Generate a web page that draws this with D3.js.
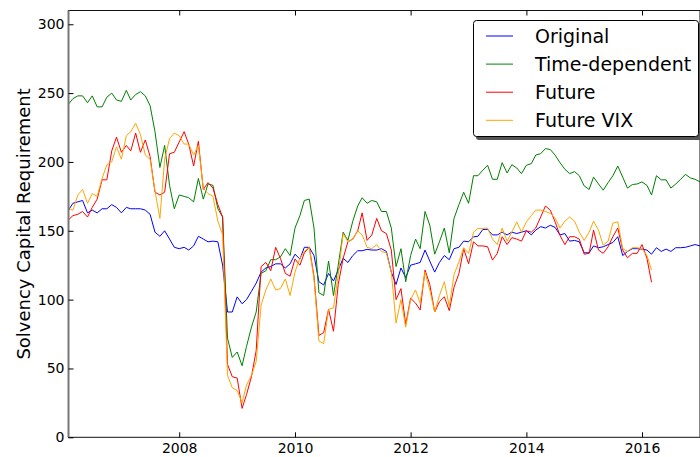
<!DOCTYPE html>
<html>
<head>
<meta charset="utf-8">
<script src="https://cdn.jsdelivr.net/npm/d3@7"></script>
<style>
  body { margin: 0; background: #fff; }
  svg { display: block; font-family: "DejaVu Sans", sans-serif; }
</style>
</head>
<body>
<svg id="chart" width="700" height="457"></svg>
<script>
// monthly values, first month 2006-02
let startMonth = new Date(2006, 1, 1)

let original = [
  165, 170, 171, 172, 163, 165, 163, 166, 166, 169, 167, 163, 167, 166, 166, 166, 165, 162, 149, 146, 150, 144, 138,
  137, 138, 136, 139, 146, 144, 142, 142.5, 142, 125, 91, 91, 102, 97, 100, 106, 112, 120, 123, 124, 126,
  126, 123, 126, 133, 129.5, 138, 138, 132, 113, 110.6, 119, 113.5, 121.5, 130, 127, 132, 135.5, 135.5, 136.5, 136, 136, 137,
  135, 120, 111, 123, 116, 125, 126, 127, 136, 128, 120, 127, 132, 129, 137, 138, 142.5, 142, 145.6, 146, 151,
  151, 147, 147, 149, 147, 149, 148, 149, 150, 147, 150.5, 153, 152, 154, 152.5, 147, 148, 142.5, 143, 142, 134, 134,
  139, 137.7, 138.4, 140, 141.5, 145.7, 132, 135, 137, 137, 136.7, 136, 133, 137.7, 135, 136.7, 135, 137.7, 137.7, 138, 139, 140, 139
]

let timeDependent = [
  242, 246, 248, 248, 243, 248, 240, 240, 247, 250, 245, 244, 252, 245, 249, 251, 248, 241, 222, 196, 212, 183, 166,
  176, 175, 174, 171, 188, 173, 184, 183, 166, 160, 72, 58, 62, 52, 66, 80, 91, 119, 121, 129, 129,
  131, 137, 132, 152, 161, 172, 173, 152, 105, 103, 128, 103, 125, 149, 143, 157, 168, 174, 170, 172, 171, 164,
  164, 152, 124, 137, 113, 132, 144, 137, 164, 154, 133, 142, 152, 134, 159, 169, 178, 170, 190, 190, 194,
  197.6, 187.4, 187.4, 199.5, 192, 198, 195.6, 191.5, 197.6, 198.8, 205, 206, 209.7, 209, 205, 199.5, 194.7, 191.5, 193, 190, 182.6, 180,
  189, 184, 179.5, 185, 190, 197, 189, 181, 183.6, 184, 185.5, 183, 176, 190, 187, 187, 181, 184, 187.4, 191, 188.4, 187.4, 185.5
]

let future = [
  158, 161, 162, 164, 160, 167, 173, 187, 187, 208, 218, 207, 212, 208, 221, 207, 216, 204, 178, 176, 178, 206, 207,
  214.5, 222, 213, 197, 215, 180, 185, 181, 169, 160, 53, 44, 43, 21, 31, 44, 63, 124, 127, 121, 138,
  130, 119, 117, 129.5, 125, 134, 138, 117, 74, 76, 93, 77, 111, 130, 142, 144, 150, 163, 143, 147, 159, 150,
  148, 136, 100, 108, 82, 101, 97.5, 92.5, 121.5, 111, 91, 98.5, 102, 92, 109, 119, 137, 126, 142, 139, 139,
  138.4, 128.7, 133.6, 145.7, 140, 145, 144, 142.5, 150, 149, 152, 160, 168, 165, 156.5, 146.6, 140, 145.7, 145.7, 144, 133, 133.6,
  150.5, 136, 133.6, 138.4, 145.7, 152, 136, 130.4, 133.6, 133.6, 140, 130, 112.6
]

let futureVix = [
  166, 165, 176, 180, 170, 177, 175, 188, 198, 200, 211, 202, 219, 222, 228, 220, 205, 202, 179, 159, 202, 217, 221,
  219, 213, 213, 205, 212, 181, 177, 175, 157, 147, 45, 36, 34, 25, 38, 45, 55, 96, 107, 115, 107,
  108, 115, 103, 120, 130, 135, 138, 115, 70, 68, 93, 94, 118, 148, 142, 144, 150, 147, 138, 137, 140, 135,
  134, 120, 83, 100, 80, 100, 107, 97.5, 120, 107, 91, 103, 113, 95, 118, 127.5, 137.7, 133.6, 149, 151.7, 151.7,
  152, 144, 140, 152, 142.5, 149, 156.5, 149, 156.5, 161, 165, 165, 164, 162.6, 159.4, 152, 157, 160, 157, 149, 143, 149,
  157, 150.5, 139.6, 142.5, 155.6, 156.5, 137, 135, 137.7, 137.7, 137, 132, 121.5
]

let seriesNames = ['Original', 'Time-dependent', 'Future', 'Future VIX']
let seriesColors = ['#0000ff', '#008000', '#ff0000', '#ffa500']
let yTicks = [0, 50, 100, 150, 200, 250, 300]

let series = [original, timeDependent, future, futureVix].map(function(values, k) {
  return {
    name: seriesNames[k],
    color: seriesColors[k],
    points: values.map(function(v, i) {
      return { date: d3.timeMonth.offset(startMonth, i), value: v }
    })
  }
})

let margin = { left: 68.5, top: 10.5, right: 700, bottom: 437.3 }
let svg = d3.select('#chart')

let x = d3
  .scaleTime()
  .domain([startMonth, d3.timeMonth.offset(startMonth, original.length - 1)])
  .range([margin.left, margin.right])
let y = d3
  .scaleLinear()
  .domain([0, 310])
  .range([margin.bottom, margin.top])

let line = d3
  .line()
  .x(function(d) { return x(d.date) })
  .y(function(d) { return y(d.value) })

// lines
svg
  .append('g')
  .selectAll('path')
  .data(series)
  .enter()
  .append('path')
  .attr('d', function(d) { return line(d.points) })
  .attr('fill', 'none')
  .attr('stroke', function(d) { return d.color })
  .attr('stroke-width', 1)

// frame
svg
  .append('rect')
  .attr('x', margin.left)
  .attr('y', margin.top)
  .attr('width', margin.right - margin.left)
  .attr('height', margin.bottom - margin.top)
  .attr('fill', 'none')
  .attr('stroke', '#111')
  .attr('stroke-width', 1)
svg
  .append('line')
  .attr('x1', margin.left)
  .attr('x2', margin.left)
  .attr('y1', margin.top)
  .attr('y2', margin.bottom)
  .attr('stroke', '#777')
  .attr('stroke-width', 2)

// axes, ticks inside
let xTicks = x.ticks(d3.timeYear.every(2))
let xAxis = d3
  .axisBottom(x)
  .tickValues(xTicks)
  .tickFormat(d3.timeFormat('%Y'))
  .tickSize(-5)
  .tickPadding(6)
let gx = svg
  .append('g')
  .attr('transform', 'translate(0,' + margin.bottom + ')')
  .call(xAxis)
gx.select('.domain').remove()
gx.attr('font-family', 'DejaVu Sans')
gx.selectAll('text').style('font-size', '14px').attr('fill', '#000')

let gxTop = svg
  .append('g')
  .attr('transform', 'translate(0,' + margin.top + ')')
  .call(d3.axisTop(x).tickValues(xTicks).tickSize(-5).tickFormat(''))
gxTop.select('.domain').remove()

let yAxis = d3
  .axisLeft(y)
  .tickValues(yTicks)
  .tickSize(-5)
  .tickPadding(4)
let gy = svg
  .append('g')
  .attr('transform', 'translate(' + margin.left + ',0)')
  .call(yAxis)
gy.select('.domain').remove()
gy.attr('font-family', 'DejaVu Sans')
gy.selectAll('text').style('font-size', '14px').attr('fill', '#000')

svg
  .append('text')
  .attr('transform', 'translate(30,' + (margin.top + margin.bottom) / 2 + ') rotate(-90)')
  .attr('text-anchor', 'middle')
  .style('font-size', '18px')
  .text('Solvency Capital Requirement')

// legend
let legend = svg.append('g').attr('class', 'legend')
legend
  .append('rect')
  .attr('x', 476)
  .attr('y', 23)
  .attr('width', 226)
  .attr('height', 117)
  .attr('rx', 3)
  .attr('fill', '#555')
legend
  .append('rect')
  .attr('x', 473.5)
  .attr('y', 20.5)
  .attr('width', 225)
  .attr('height', 116)
  .attr('rx', 3)
  .attr('fill', '#fff')
  .attr('stroke', '#000')
  .attr('stroke-width', 1)

let entries = legend
  .selectAll('g.legend-entry')
  .data(series)
  .enter()
  .append('g')
  .classed('legend-entry', true)
  .attr('transform', function(d, i) {
    return 'translate(0,' + (36 + i * 28.1) + ')'
  })
entries
  .append('line')
  .attr('x1', 486)
  .attr('x2', 513)
  .attr('stroke', function(d) { return d.color })
  .attr('stroke-width', 1)
entries
  .append('text')
  .attr('x', 535)
  .attr('y', 7)
  .style('font-size', '19px')
  .text(function(d) { return d.name })
</script>
</body>
</html>
